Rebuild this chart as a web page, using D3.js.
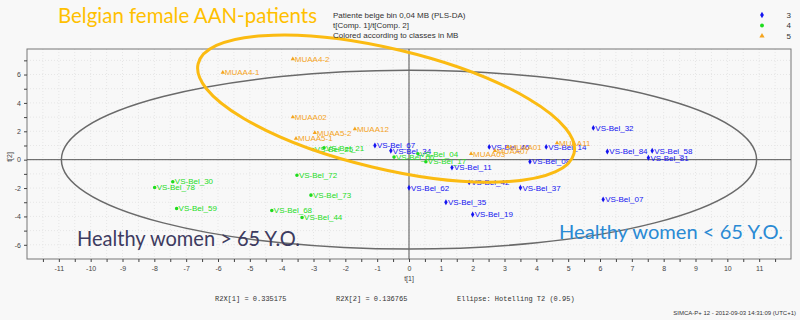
<!DOCTYPE html>
<html>
<head>
<meta charset="utf-8">
<script src="https://cdn.jsdelivr.net/npm/d3@7"></script>
<style>
  body { margin: 0; background: #f8f8f8; }
  svg { display: block; }
</style>
</head>
<body>
<div id="chart"></div>
<script>
// class 3 (blue), class 4 (green), class 5 (orange): [label, t1, t2]
const class3 = [
  ['VS-Bel_67', -1.07, 1.0], ['VS-Bel_34', -0.57, 0.63], ['VS-Bel_11', 1.35, -0.56],
  ['VS-Bel_46', 2.52, 0.9], ['VS-Bel_14', 4.31, 0.9], ['VS-Bel_32', 5.79, 2.24],
  ['VS-Bel_84', 6.23, 0.58], ['VS-Bel_58', 7.64, 0.63], ['VS-Bel_81', 7.52, 0.14],
  ['VS-Bel_08', 3.8, -0.14], ['VS-Bel_42', 1.89, -1.6], ['VS-Bel_62', 0.0, -1.98],
  ['VS-Bel_37', 3.5, -1.98], ['VS-Bel_07', 6.1, -2.8], ['VS-Bel_35', 1.16, -3.0],
  ['VS-Bel_19', 2.0, -3.86]
]
const class4 = [
  ['VS-Bel_30', -7.42, -1.55], ['VS-Bel_78', -7.99, -1.96], ['VS-Bel_59', -7.3, -3.44],
  ['VS-Bel_72', -3.52, -1.1], ['VS-Bel_73', -3.08, -2.5], ['VS-Bel_68', -4.31, -3.58],
  ['VS-Bel_44', -3.36, -4.07], ['VS-Bel_21', -2.67, 0.84], ['VS-Bel_25', -3.02, 0.72],
  ['VS-Bel_06', -0.47, 0.18], ['VS-Bel_04', 0.28, 0.42], ['VS-Bel_17', 0.53, -0.14]
]
const class5 = [
  ['MUAA4-1', -5.85, 6.15], ['MUAA4-2', -3.65, 7.1], ['MUAA02', -3.65, 3.0],
  ['MUAA5-2', -2.96, 1.9], ['MUAA12', -1.7, 2.16], ['MUAA5-1', -3.55, 1.5],
  ['MUAA03', 1.95, 0.42], ['MUAA07', 2.7, 0.63], ['MUAA01', 3.1, 0.9],
  ['MUAA11', 4.65, 1.18]
]
const xTicks = d3.range(-11, 12, 1)
const yTicks = [-6, -4, -2, 0, 2, 4, 6]
const legendClasses = ['3', '4', '5']
const headerLines = ['Patiente belge bin 0,04 MB (PLS-DA)', 't[Comp. 1]/t[Comp. 2]', 'Colored according to classes in MB']
const footer = ['R2X[1] = 0.335175', 'R2X[2] = 0.136765', 'Ellipse: Hotelling T2 (0.95)']
const hotelling = { rx: 10.92, ry: 6.3 }
const aanEllipse = { cx: -0.72, cy: 3.6, rx: 6.07, ry: 4.23, angle: 13.4 }

const W = 800, H = 320
const colors = { '3': '#1414f0', '4': '#1edc1e', '5': '#f5a41e' }

const svg = d3.select('#chart').append('svg')
  .attr('width', W).attr('height', H)
svg.append('rect').attr('width', W).attr('height', H).attr('fill', '#f8f8f8')

const x = d3.scaleLinear().domain([-12, 12]).range([27, 791])
const y = d3.scaleLinear().domain([-7, 7.8]).range([259, 49])

// faint grid
const grid = svg.append('g')
grid.selectAll('line.gx').data(d3.range(-11.5, 12, 0.5)).enter().append('line')
  .attr('x1', d => x(d)).attr('x2', d => x(d)).attr('y1', 49).attr('y2', 259)
  .attr('stroke', '#e6e6e6').attr('stroke-dasharray', '1,2')
grid.selectAll('line.gy').data(d3.range(-6, 8, 1)).enter().append('line')
  .attr('y1', d => y(d)).attr('y2', d => y(d)).attr('x1', 27).attr('x2', 791)
  .attr('stroke', '#e6e6e6').attr('stroke-dasharray', '1,2')

// frame
svg.append('rect').attr('x', 27).attr('y', 49).attr('width', 764).attr('height', 210)
  .attr('fill', 'none').attr('stroke', '#777').attr('stroke-width', 1)

// zero lines
svg.append('line').attr('x1', 27).attr('x2', 791).attr('y1', y(0)).attr('y2', y(0))
  .attr('stroke', '#555')
svg.append('line').attr('x1', x(0)).attr('x2', x(0)).attr('y1', 49).attr('y2', 259)
  .attr('stroke', '#555')

// axes
const xAxis = svg.append('g').attr('transform', 'translate(0,259)')
  .call(d3.axisBottom(x).tickValues(d3.range(-11.5, 12, 0.5)).tickSize(3).tickFormat(d => Number.isInteger(d) && xTicks.includes(d) ? d : ''))
const yAxis = svg.append('g').attr('transform', 'translate(27,0)')
  .call(d3.axisLeft(y).tickValues(d3.range(-6, 8, 1)).tickSize(3).tickFormat(d => yTicks.includes(d) ? d : ''))
;[xAxis, yAxis].forEach(a => {
  a.select('.domain').remove()
  a.selectAll('.tick line').attr('stroke', '#444')
  a.selectAll('.tick text').attr('fill', '#444').attr('font-size', 7).attr('font-family', 'Liberation Sans, Arial')
})
xAxis.selectAll('.tick text').attr('dy', '0.9em')
yAxis.selectAll('.tick text').attr('x', -6)

svg.append('text').attr('x', x(0)).attr('y', 281).attr('text-anchor', 'middle')
  .attr('font-size', 7).attr('font-family', 'Liberation Sans, Arial').attr('fill', '#444').text('t[1]')
svg.append('text').attr('transform', 'translate(12,157) rotate(-90)').attr('text-anchor', 'middle')
  .attr('font-size', 7).attr('font-family', 'Liberation Sans, Arial').attr('fill', '#444').text('t[2]')

// Hotelling T2 ellipse
svg.append('ellipse').attr('cx', x(0)).attr('cy', y(0))
  .attr('rx', x(hotelling.rx) - x(0)).attr('ry', y(0) - y(hotelling.ry))
  .attr('fill', 'none').attr('stroke', '#6a6a6a').attr('stroke-width', 1.5)

// points
const allPts = [].concat(
  class3.map(d => ({ cls: '3', label: d[0], t1: d[1], t2: d[2] })),
  class4.map(d => ({ cls: '4', label: d[0], t1: d[1], t2: d[2] })),
  class5.map(d => ({ cls: '5', label: d[0], t1: d[1], t2: d[2] }))
)
const symbols = { '3': d3.symbolDiamond, '4': d3.symbolCircle, '5': d3.symbolTriangle }
const pts = svg.append('g').selectAll('g').data(allPts).enter().append('g')
  .attr('transform', d => `translate(${x(d.t1)},${y(d.t2)})`)
pts.append('path').attr('d', d => d3.symbol().type(symbols[d.cls]).size(d.cls === '5' ? 8 : 10)())
  .attr('fill', d => colors[d.cls])
pts.append('text').attr('x', 2).attr('dy', '0.35em')
  .attr('font-size', 8).attr('font-family', 'Liberation Sans, Arial')
  .attr('fill', d => colors[d.cls]).text(d => d.label)

// hand-drawn annotation ellipse
svg.append('ellipse')
  .attr('transform', `translate(${x(aanEllipse.cx)},${y(aanEllipse.cy)}) rotate(${aanEllipse.angle})`)
  .attr('rx', x(aanEllipse.rx) - x(0)).attr('ry', y(0) - y(aanEllipse.ry))
  .attr('fill', 'none').attr('stroke', '#fbbb12').attr('stroke-width', 3)

// header
svg.append('g').selectAll('text').data(headerLines).enter().append('text')
  .attr('x', 333).attr('y', (d, i) => 18 + i * 10)
  .attr('font-size', 8).attr('font-family', 'Liberation Sans, Arial').attr('fill', '#333').text(d => d)

// legend
const leg = svg.append('g').selectAll('g').data(legendClasses).enter().append('g')
  .attr('transform', (d, i) => `translate(762,${15 + i * 10.5})`)
leg.append('path').attr('d', d => d3.symbol().type(symbols[d]).size(12)()).attr('fill', d => colors[d])
leg.append('text').attr('x', 29).attr('dy', '0.35em').attr('text-anchor', 'end')
  .attr('font-size', 8).attr('font-family', 'Liberation Sans, Arial').attr('fill', '#333').text(d => d)

// footer
svg.append('g').selectAll('text').data(footer).enter().append('text')
  .attr('x', (d, i) => [215, 336, 457][i]).attr('y', 301)
  .attr('font-size', 7).attr('font-family', 'Liberation Mono, Courier New, monospace').attr('fill', '#333').text(d => d)
svg.append('text').attr('x', 796).attr('y', 315).attr('text-anchor', 'end')
  .attr('font-size', 6).attr('font-family', 'Liberation Sans, Arial').attr('fill', '#333')
  .text('SIMCA-P+ 12 - 2012-09-03 14:31:09 (UTC+1)')

// annotations (fitted to the widths seen in the reference)
svg.append('text').attr('x', 58).attr('y', 23).attr('font-family', 'Lato, sans-serif')
  .attr('font-size', 21).attr('textLength', 259).attr('lengthAdjust', 'spacingAndGlyphs')
  .attr('fill', '#ffc000').text('Belgian female AAN-patients')
svg.append('text').attr('x', 77).attr('y', 246).attr('font-family', 'Lato, sans-serif')
  .attr('font-size', 21).attr('textLength', 223).attr('lengthAdjust', 'spacingAndGlyphs')
  .attr('fill', '#3d3b60').text('Healthy women > 65 Y.O.')
svg.append('text').attr('x', 559).attr('y', 239).attr('font-family', 'Lato, sans-serif')
  .attr('font-size', 20).attr('textLength', 224).attr('lengthAdjust', 'spacingAndGlyphs')
  .attr('fill', '#2a8ad4').text('Healthy women < 65 Y.O.')
</script>
</body>
</html>
